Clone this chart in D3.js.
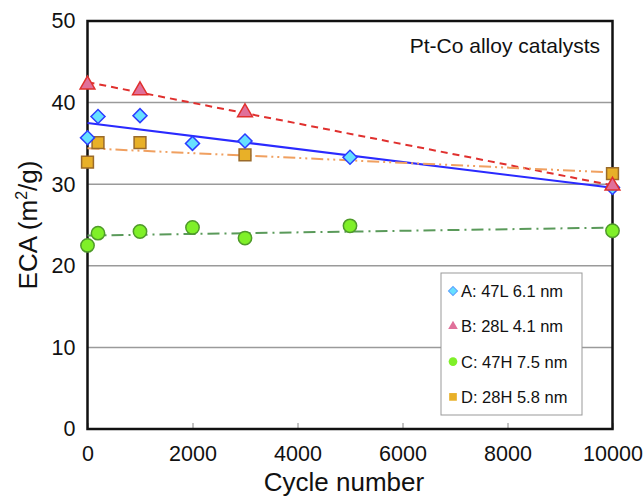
<!DOCTYPE html>
<html>
<head>
<meta charset="utf-8">
<script src="https://cdn.jsdelivr.net/npm/d3@7"></script>
<style>
  body { margin: 0; background: #fff; }
  svg { font-family: "Liberation Sans", Arial, sans-serif; }
</style>
</head>
<body>
<svg id="chart" width="643" height="498"></svg>
<script>
const xTicks = [0, 2000, 4000, 6000, 8000, 10000];
const yTicks = [0, 10, 20, 30, 40, 50];

const cyclesA = [0, 200, 1000, 2000, 3000, 5000, 10000];
const ecaA = [35.7, 38.3, 38.4, 35.0, 35.3, 33.3, 29.6];
const cyclesB = [0, 1000, 3000, 10000];
const ecaB = [42.2, 41.5, 38.8, 29.8];
const cyclesC = [0, 200, 1000, 2000, 3000, 5000, 10000];
const ecaC = [22.5, 24.0, 24.2, 24.7, 23.4, 24.9, 24.3];
const cyclesD = [0, 200, 1000, 3000, 10000];
const ecaD = [32.7, 35.1, 35.1, 33.6, 31.3];

const seriesNames = ["A: 47L 6.1 nm", "B: 28L 4.1 nm", "C: 47H 7.5 nm", "D: 28H 5.8 nm"];

const series = [
  { name: seriesNames[0], xs: cyclesA, ys: ecaA, shape: d3.symbolSquare, rot: 45, size: 98, fill: "#66e0ff", stroke: "#2a3cff",
    line: "#2a2aff", dash: null },
  { name: seriesNames[1], xs: cyclesB, ys: ecaB, shape: d3.symbolTriangle, rot: 0, size: 95, fill: "#e0709a", stroke: "#e0302e",
    line: "#e0302e", dash: "7,5" },
  { name: seriesNames[2], xs: cyclesC, ys: ecaC, shape: d3.symbolCircle, rot: 0, size: 140, fill: "#7ff028", stroke: "#4f9a2a",
    line: "#5a9a5a", dash: "12,5,2,5" },
  { name: seriesNames[3], xs: cyclesD, ys: ecaD, shape: d3.symbolSquare, rot: 0, size: 140, fill: "#e8b028", stroke: "#9a6a2a",
    line: "#f0a060", dash: "12,4,2,4,2,4" }
];

// least squares trend line
function fit(xs, ys) {
  const mx = d3.mean(xs), my = d3.mean(ys);
  let sxy = 0, sxx = 0;
  xs.forEach((x, i) => { sxy += (x - mx) * (ys[i] - my); sxx += (x - mx) * (x - mx); });
  const b = sxy / sxx;
  return x => my + b * (x - mx);
}

const svg = d3.select("#chart");
const margin = { left: 87.5, top: 21, right: 30.5, bottom: 69 };
const W = 643 - margin.left - margin.right;
const H = 498 - margin.top - margin.bottom;

const x = d3.scaleLinear().domain([0, 10000]).range([0, W]);
const y = d3.scaleLinear().domain([0, 50]).range([H, 0]);

const g = svg.append("g").attr("transform", `translate(${margin.left},${margin.top})`);

// gridlines
g.append("g")
  .selectAll("line")
  .data(yTicks.filter(t => t > 0 && t < 50))
  .enter()
  .append("line")
  .attr("x1", 0).attr("x2", W)
  .attr("y1", d => y(d)).attr("y2", d => y(d))
  .attr("stroke", "#9a9a9a")
  .attr("stroke-width", 1.5);

// x axis, ticks pointing inward
const xAxis = g.append("g")
  .attr("transform", `translate(0,${H})`)
  .call(d3.axisBottom(x).tickValues(xTicks).tickSizeInner(-6).tickSizeOuter(0).tickPadding(17).tickFormat(d3.format("d")));
xAxis.select(".domain").remove();
xAxis.selectAll(".tick line").attr("stroke", "#888");
xAxis.selectAll("text").attr("font-size", 21.5).attr("fill", "#111").attr("font-family", "Liberation Sans, Arial, sans-serif");

const yAxis = g.append("g")
  .call(d3.axisLeft(y).tickValues(yTicks).tickSize(0).tickPadding(12));
yAxis.select(".domain").remove();
yAxis.selectAll("text").attr("font-size", 21.5).attr("fill", "#111").attr("font-family", "Liberation Sans, Arial, sans-serif");

// frame
g.append("rect")
  .attr("x", 0).attr("y", 0).attr("width", W).attr("height", H)
  .attr("fill", "none").attr("stroke", "#111").attr("stroke-width", 2.5);

// trend lines
series.forEach(s => {
  const f = fit(s.xs, s.ys);
  g.append("line")
    .attr("x1", x(0)).attr("y1", y(f(0)))
    .attr("x2", x(10000)).attr("y2", y(f(10000)))
    .attr("stroke", s.line)
    .attr("stroke-width", 2)
    .attr("stroke-dasharray", s.dash);
});

// markers, C drawn first so others sit on top
[2, 3, 0, 1].forEach(k => {
  const s = series[k];
  g.selectAll(".pt-" + k)
    .data(s.xs.map((c, i) => ({ c, v: s.ys[i] })))
    .enter()
    .append("path")
    .attr("class", "pt-" + k)
    .attr("d", d3.symbol().type(s.shape).size(s.size))
    .attr("transform", d => `translate(${x(d.c)},${y(d.v)}) rotate(${s.rot})`)
    .attr("fill", s.fill)
    .attr("stroke", s.stroke)
    .attr("stroke-width", 1.5);
});

// annotation
g.append("text")
  .attr("x", W - 12.5).attr("y", 31.5)
  .attr("text-anchor", "end")
  .attr("font-size", 21)
  .attr("fill", "#111")
  .text("Pt-Co alloy catalysts");

// legend
const lg = g.append("g").attr("transform", `translate(${441 - margin.left},${273 - margin.top})`);
lg.append("rect")
  .attr("width", 141).attr("height", 142)
  .attr("fill", "#fff").attr("stroke", "#999").attr("stroke-width", 1);
series.forEach((s, i) => {
  const row = lg.append("g").attr("transform", `translate(12,${18 + i * 35.3})`);
  row.append("path")
    .attr("d", d3.symbol().type(s.shape).size(s.size * 0.42))
    .attr("transform", `rotate(${s.rot})`)
    .attr("fill", s.fill)
    .attr("stroke", i === 0 ? "#5aa0ff" : "none")
    .attr("stroke-width", 1);
  row.append("text")
    .attr("x", 8).attr("y", 6)
    .attr("font-size", 16.5)
    .attr("fill", "#111")
    .text(s.name);
});

// axis titles
svg.append("text")
  .attr("x", margin.left + W / 2 - 6).attr("y", 491)
  .attr("text-anchor", "middle")
  .attr("font-size", 26)
  .attr("fill", "#111")
  .text("Cycle number");

const yl = svg.append("text")
  .attr("transform", `translate(37,${margin.top + H / 2}) rotate(-90)`)
  .attr("text-anchor", "middle")
  .attr("font-size", 26)
  .attr("fill", "#111");
yl.append("tspan").text("ECA (m");
yl.append("tspan").attr("font-size", 16).attr("dy", -10).text("2");
yl.append("tspan").attr("dy", 10).text("/g)");
</script>
</body>
</html>
